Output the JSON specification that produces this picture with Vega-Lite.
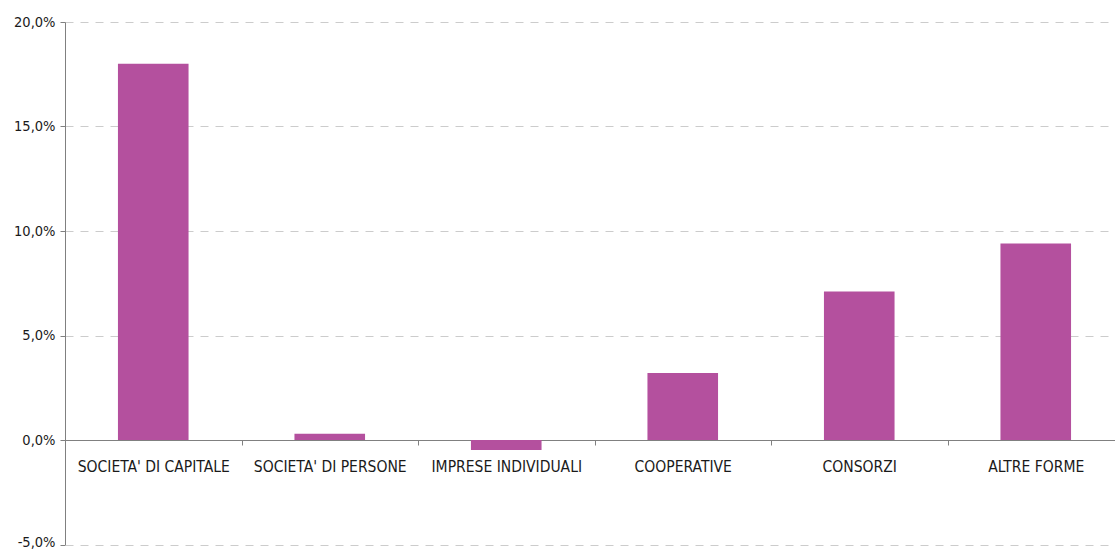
{
  "$schema": "https://vega.github.io/schema/vega-lite/v6.json",
  "autosize": "none",
  "width": 1059,
  "height": 522.5,
  "padding": {"left": 65, "top": 22, "right": 0, "bottom": 6},
  "background": "white",
  "config": {"view": {"stroke": null}, "font": "DejaVu Sans Condensed"},
  "data": {
    "values": [
      {"forma": "SOCIETA' DI CAPITALE", "var": 18.0},
      {"forma": "SOCIETA' DI PERSONE", "var": 0.3},
      {"forma": "IMPRESE INDIVIDUALI", "var": -0.48},
      {"forma": "COOPERATIVE", "var": 3.2},
      {"forma": "CONSORZI", "var": 7.1},
      {"forma": "ALTRE FORME", "var": 9.4}
    ]
  },
  "mark": {"type": "bar", "color": "#b4509e", "width": {"band": 0.4}},
  "encoding": {
    "x": {
      "field": "forma",
      "type": "nominal",
      "sort": null,
      "scale": {"paddingInner": 0, "paddingOuter": 0},
      "axis": {
        "title": null,
        "orient": "bottom",
        "offset": -104.5,
        "tickBand": "extent",
        "labelAngle": 0,
        "labelFontSize": 15.5,
        "labelColor": "#1a1a1a",
        "labelPadding": 14,
        "domainColor": "#808080",
        "tickColor": "#808080",
        "tickSize": 5,
        "grid": false
      }
    },
    "y": {
      "field": "var",
      "type": "quantitative",
      "scale": {"domain": [-5, 20], "nice": false, "zero": false},
      "axis": {
        "title": null,
        "values": [-5, 0, 5, 10, 15, 20],
        "labelExpr": "replace(replace(format(datum.value, '.1f'), '.', ','), '−', '-') + '%'",
        "labelFontSize": 14.5,
        "labelColor": "#1a1a1a",
        "labelPadding": 5,
        "labelOffset": {"condition": {"test": "datum.value == -5", "value": -2}, "value": 0},
        "domainColor": "#808080",
        "tickColor": "#808080",
        "tickSize": 5,
        "grid": true,
        "gridColor": "#cccccc",
        "gridDash": [8, 7],
        "gridWidth": 1
      }
    }
  }
}
